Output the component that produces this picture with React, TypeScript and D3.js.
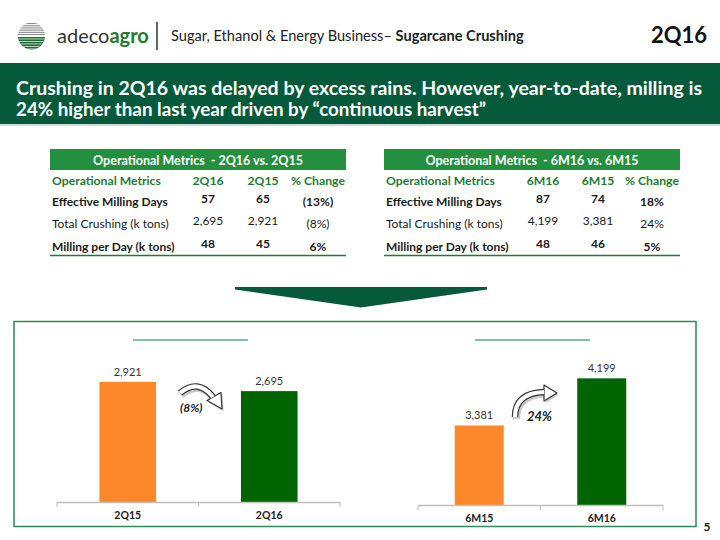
import React from "react";
import * as d3 from "d3";

const qCategories = ["2Q15", "2Q16"];
const qCrushing = [2921, 2695];
const hCategories = ["6M15", "6M16"];
const hCrushing = [3381, 4199];

const qLabels = ["2,921", "2,695"];
const hLabels = ["3,381", "4,199"];

const rowLabels = ["Effective Milling Days", "Total Crushing (k tons)", "Milling per Day (k tons)"];
const rowBold = [true, false, true];
const qHeaders = ["Operational Metrics", "2Q16", "2Q15", "% Change"];
const q16 = ["57", "2,695", "48"];
const q15 = ["65", "2,921", "45"];
const qChange = ["(13%)", "(8%)", "6%"];
const hHeaders = ["Operational Metrics", "6M16", "6M15", "% Change"];
const h16 = ["87", "4,199", "48"];
const h15 = ["74", "3,381", "46"];
const hChange = ["18%", "24%", "5%"];

const FONT = "Lato, 'Open Sans', sans-serif";
const DARK_GREEN = "#055a3b";
const TABLE_GREEN = "#23903f";
const TEXT_GREEN = "#1e7b34";
const ORANGE = "#fd882c";
const BAR_GREEN = "#006400";

function Table({ x0, x1, title, headers, c16, c15, chg, cols }: any) {
  const rowsY = [202, 224, 247];
  return (
    <g fontFamily={FONT}>
      <rect x={x0} y={149} width={x1 - x0} height={21} fill={TABLE_GREEN} />
      <text x={(x0 + x1) / 2} y={165} textAnchor="middle" fill="#fff" fontWeight="bold" fontSize={12.5} style={{ whiteSpace: "pre" }}>
        {title}
      </text>
      <text x={x0 + 2} y={185} fill={TEXT_GREEN} fontWeight="bold" fontSize={12.2}>{headers[0]}</text>
      {headers.slice(1).map((h: string, i: number) => (
        <text key={h} x={cols[i]} y={185} textAnchor="middle" fill={TEXT_GREEN} fontWeight="bold" fontSize={12.2}>{h}</text>
      ))}
      {rowLabels.map((l, i) => (
        <g key={l} fontWeight={rowBold[i] ? "bold" : "normal"} fontSize={12} fill="#1a1a1a">
          <text x={x0 + 2} y={rowsY[i] + 4}>{l}</text>
          <text x={cols[0]} y={rowsY[i] + 1} textAnchor="middle">{c16[i]}</text>
          <text x={cols[1]} y={rowsY[i] + 1} textAnchor="middle">{c15[i]}</text>
          <text x={cols[2]} y={rowsY[i] + 4} textAnchor="middle">{chg[i]}</text>
        </g>
      ))}
      <line x1={x0} x2={x1} y1={255.5} y2={255.5} stroke={TEXT_GREEN} strokeWidth={1.5} />
    </g>
  );
}

function BarChart({ cats, vals, labels, x0, x1, yBase, domain }: any) {
  const x = d3.scaleBand().domain(cats).range([x0, x1]).padding(0);
  const y = d3.scaleLinear().domain(domain).range([yBase, yBase - 144]);
  const bw = x.bandwidth() * 0.4;
  const colors = [ORANGE, BAR_GREEN];
  const ticks = [x0, ...cats.map((c: string) => (x(c) as number) + x.bandwidth())];
  return (
    <g fontFamily={FONT}>
      {cats.map((c: string, i: number) => {
        const cx = (x(c) as number) + x.bandwidth() / 2;
        return (
          <g key={c}>
            <rect x={cx - bw / 2} y={y(vals[i])} width={bw} height={yBase - y(vals[i])} fill={colors[i]} />
            <text x={cx} y={y(vals[i]) - 6} textAnchor="middle" fontSize={11} fill="#333">{labels[i]}</text>
            <text x={cx} y={yBase + 17} textAnchor="middle" fontSize={10.5} fontWeight="bold" fill="#222">{c}</text>
          </g>
        );
      })}
      <line x1={x0} x2={x1} y1={yBase + 0.5} y2={yBase + 0.5} stroke="#bfbfbf" strokeWidth={1.5} />
      {ticks.map((t: number, i: number) => (
        <line key={i} x1={t} x2={t} y1={yBase} y2={yBase + 5} stroke="#bfbfbf" strokeWidth={1} />
      ))}
    </g>
  );
}

function CurvedArrow({ d, tip }: any) {
  return (
    <g>
      <g transform="translate(1.5,2)" opacity={0.35}>
        <path d={d} fill="none" stroke="#666" strokeWidth={7} />
        <polygon points={tip} fill="#666" />
      </g>
      <path d={d} fill="none" stroke="#333" strokeWidth={6.5} />
      <polygon points={tip} fill="#fff" stroke="#333" strokeWidth={1.2} strokeLinejoin="round" />
      <path d={d} fill="none" stroke="#fff" strokeWidth={4.2} />
    </g>
  );
}

export default function App() {
  return (
    <svg width={720} height={540} style={{ position: "absolute", left: 0, top: 0 }} fontFamily={FONT}>
      <rect width={720} height={540} fill="#fff" />
      {/* Logo */}
      <defs>
        <clipPath id="logoClip">
          <circle cx={31.5} cy={36} r={13.5} />
        </clipPath>
      </defs>
      <g clipPath="url(#logoClip)">
        <rect x={17} y={22} width={30} height={28} fill="#fff" />
        {d3.range(0, 6).map((i) => (
          <rect key={"g" + i} x={18} y={23 + i * 2.2} width={27} height={1.1} fill="#8a8a8a" />
        ))}
        <rect x={17} y={37} width={30} height={14} fill="#1f6b34" />
        {d3.range(0, 5).map((i) => (
          <rect key={"w" + i} x={18} y={38.5 + i * 2.5} width={27} height={0.9} fill="#cfe3d4" />
        ))}
      </g>
      <text x={57} y={43} fontSize={20} fontFamily={FONT}>
        <tspan fill="#333">adeco</tspan>
        <tspan fill="#1f7a33" fontWeight="bold">agro</tspan>
      </text>
      <line x1={157} x2={157} y1={22} y2={50} stroke="#333" strokeWidth={1.5} />
      <text x={171} y={41} fontSize={14.6} fill="#222">
        <tspan>Sugar, Ethanol &amp; Energy Business– </tspan>
        <tspan fontWeight="bold">Sugarcane Crushing</tspan>
      </text>
      <text x={707} y={43} textAnchor="end" fontSize={22} fontWeight="bold" fill="#111">2Q16</text>

      {/* Banner */}
      <rect x={0} y={63} width={720} height={61} fill={DARK_GREEN} />
      <line x1={0} x2={720} y1={125} y2={125} stroke="#b9cfe0" strokeWidth={1.5} />
      <text x={16} y={94.5} fill="#fff" fontWeight="bold" fontSize={19} textLength={686} lengthAdjust="spacingAndGlyphs">
        Crushing in 2Q16 was delayed by excess rains. However, year-to-date, milling is
      </text>
      <text x={16} y={115.5} fill="#fff" fontWeight="bold" fontSize={19} textLength={470} lengthAdjust="spacingAndGlyphs">
        24% higher than last year driven by “continuous harvest”
      </text>

      <Table x0={50} x1={346} title={"Operational Metrics\u00a0 - 2Q16 vs. 2Q15"} headers={qHeaders}
        c16={q16} c15={q15} chg={qChange} cols={[208, 263, 318]} />
      <Table x0={384} x1={680} title={"Operational Metrics\u00a0 - 6M16 vs. 6M15"} headers={hHeaders}
        c16={h16} c15={h15} chg={hChange} cols={[543, 598, 652]} />

      {/* Down arrow */}
      <polygon points="235,287 487,287 487,289.5 361,307.5 235,289.5" fill={DARK_GREEN} />

      {/* Box */}
      <rect x={14} y={321.5} width={682} height={205} fill="none" stroke="#2a8a5a" strokeWidth={1.5} />
      <line x1={133} x2={248} y1={340} y2={340} stroke="#5aa889" strokeWidth={1.5} />
      <line x1={475} x2={590} y1={340} y2={340} stroke="#5aa889" strokeWidth={1.5} />

      <BarChart cats={qCategories} vals={qCrushing} labels={qLabels} x0={57} x1={340} yBase={502} domain={[0, 3500]} />
      <BarChart cats={hCategories} vals={hCrushing} labels={hLabels} x0={418} x1={663} yBase={505} domain={[2000, 4500]} />

      <CurvedArrow d="M180,393 Q198,378 213,397" tip="207,400.5 221,392.5 222,409" />
      <text x={180} y={412} fontSize={12} fontWeight="bold" fontStyle="italic" fill="#222">(8%)</text>

      <CurvedArrow d="M515,417 Q515,393 544,392" tip="544,385 557,393 544,401" />
      <text x={527} y={421} fontSize={13} fontWeight="bold" fontStyle="italic" fill="#222">24%</text>

      <text x={707} y={531} textAnchor="middle" fontSize={12} fontWeight="bold" fill="#222">5</text>
    </svg>
  );
}
